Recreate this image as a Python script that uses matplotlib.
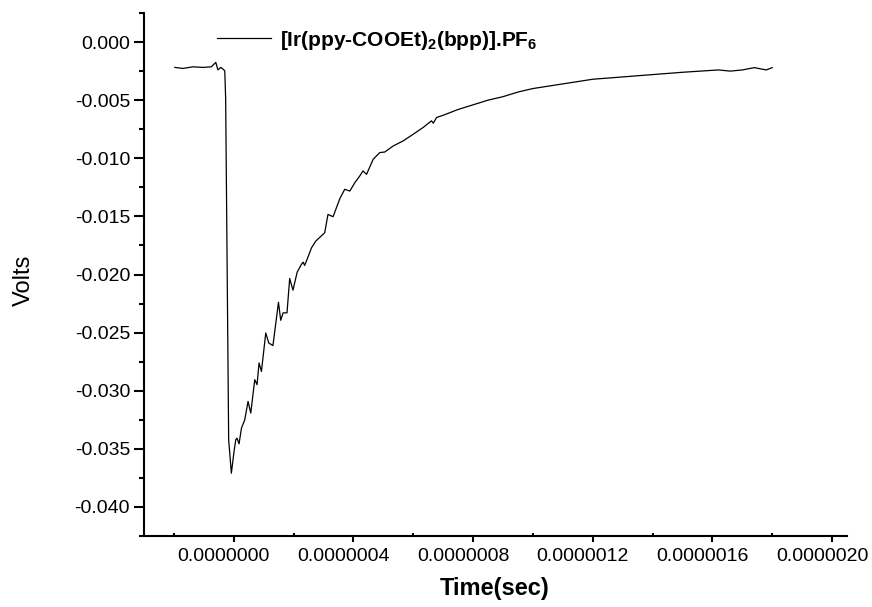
import numpy as np
import matplotlib
matplotlib.use("Agg")
import matplotlib.pyplot as plt
import matplotlib.transforms as mtransforms
from matplotlib.ticker import MultipleLocator, FormatStrFormatter

plt.rcParams['font.family'] = ['Liberation Sans', 'DejaVu Sans']
plt.rcParams['mathtext.fontset'] = 'custom'
plt.rcParams['mathtext.rm'] = 'Liberation Sans:bold'
plt.rcParams['mathtext.default'] = 'rm'

# transient signal, time in microseconds, signal in volts
time_us = [-0.197, -0.170, -0.136, -0.103, -0.075, -0.060, -0.053, -0.043, -0.036,
           -0.030, -0.027, -0.017, -0.008,
           0.001, 0.0067, 0.011, 0.0177, 0.0258, 0.0368, 0.0478, 0.0569, 0.0702,
           0.0779, 0.0846, 0.0926, 0.107, 0.117, 0.131, 0.1495, 0.157, 0.165,
           0.178, 0.187, 0.198, 0.212, 0.226, 0.232, 0.237, 0.245, 0.260, 0.274,
           0.304, 0.315, 0.332, 0.355, 0.371, 0.388, 0.405, 0.421, 0.432, 0.444,
           0.466, 0.488, 0.505, 0.533, 0.566, 0.600, 0.633, 0.661, 0.667, 0.678,
           0.70, 0.75, 0.80, 0.85, 0.90, 0.95, 1.00, 1.05, 1.10, 1.15, 1.20, 1.25,
           1.30, 1.35, 1.40, 1.45, 1.50, 1.56, 1.62, 1.66, 1.70, 1.74, 1.78, 1.80]
volts = [-0.00218, -0.00227, -0.00213, -0.00218, -0.00213, -0.00175, -0.00239, -0.00218, -0.00233,
         -0.00247, -0.00491, -0.0342, -0.0371,
         -0.03523, -0.03422, -0.03408, -0.03457, -0.03322, -0.0325, -0.03092, -0.03192, -0.02905,
         -0.02948, -0.02761, -0.02834, -0.02503, -0.02589, -0.02612, -0.02239, -0.02394, -0.0233,
         -0.0233, -0.02034, -0.02135, -0.0198, -0.01914, -0.01894, -0.01922, -0.01871, -0.0177, -0.01713,
         -0.01641, -0.01483, -0.01503, -0.01345, -0.01267, -0.01282, -0.01209, -0.01153, -0.01109, -0.01138,
         -0.01009, -0.00951, -0.00946, -0.00894, -0.00851, -0.00793, -0.00735, -0.00678, -0.00698, -0.00649,
         -0.0063, -0.0058, -0.0054, -0.0050, -0.0047, -0.0043, -0.0040, -0.0038, -0.0036, -0.0034, -0.0032, -0.0031,
         -0.0030, -0.0029, -0.0028, -0.0027, -0.0026, -0.0025, -0.0024, -0.0025, -0.0024, -0.0022, -0.0024, -0.0022]

time_s = np.array(time_us) * 1e-6

fig = plt.figure(figsize=(8.72, 6.07), dpi=100)
ax = fig.add_axes([144/872, 1 - 536/607, 703/872, 523/607])

ax.plot(time_s, volts, color='black', lw=0.9,
        label=r'[Ir(ppy-COOEt)$_2$(bpp)].PF$_6$')

ax.set_xlim(-0.3e-6, 2.05e-6)
ax.set_ylim(-0.0425, 0.0025)

for s in ['top', 'right']:
    ax.spines[s].set_visible(False)
for s in ['left', 'bottom']:
    ax.spines[s].set_linewidth(1.5)

ax.xaxis.set_major_locator(MultipleLocator(0.4e-6))
ax.xaxis.set_minor_locator(MultipleLocator(0.2e-6))
ax.xaxis.set_major_formatter(FormatStrFormatter('%.7f'))
ax.yaxis.set_major_locator(MultipleLocator(0.005))
ax.yaxis.set_minor_locator(MultipleLocator(0.0025))
ax.yaxis.set_major_formatter(FormatStrFormatter('%.3f'))

ax.tick_params(axis='y', which='major', direction='out', length=7, width=1.5, labelsize=14, pad=3)
ax.tick_params(axis='y', which='minor', direction='out', length=3.6, width=1.5)
ax.tick_params(axis='x', which='major', direction='out', length=4.5, width=1.5, labelsize=14, pad=4)
ax.tick_params(axis='x', which='minor', direction='in', length=2.5, width=1.5)

# x tick labels sit a little left of their ticks in the original
shift = mtransforms.ScaledTranslation(-10/100, 0, fig.dpi_scale_trans)
for lbl in ax.get_xticklabels():
    lbl.set_transform(lbl.get_transform() + shift)

fig.text(24/872, 1 - 280/607, 'Volts', rotation=90, ha='center', va='center', fontsize=17)
fig.text(495/872, 1 - 588/607, 'Time(sec)', ha='center', va='center', fontsize=17, fontweight='bold')

leg = ax.legend(loc='center left', bbox_to_anchor=(217/872, 1 - 40/607),
                bbox_transform=fig.transFigure, frameon=False, borderpad=0,
                borderaxespad=0, handlelength=2.6, handletextpad=0.4,
                prop={'size': 15, 'weight': 'bold'})
for h in leg.get_lines():
    h.set_linewidth(0.9)

fig.savefig('out.png', dpi=100)
